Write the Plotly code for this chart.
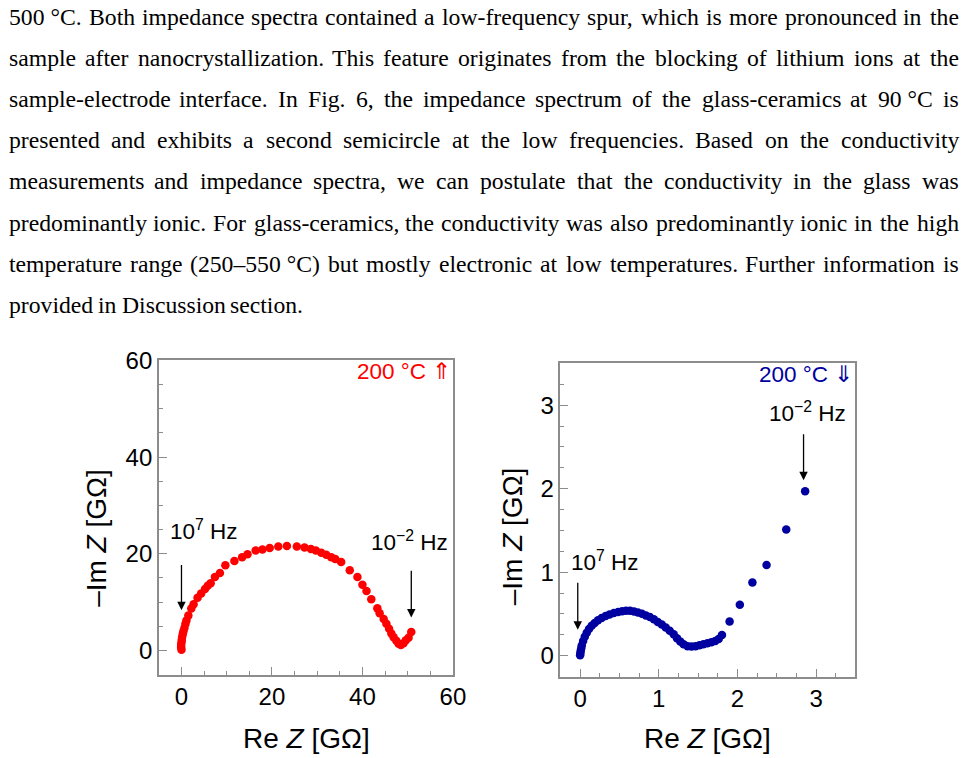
import plotly.graph_objects as go

# ---------------- data ----------------
paragraph_lines = [
    "500\u00a0°C. Both impedance spectra contained a low-frequency spur, which is more pronounced in the",
    "sample after nanocrystallization. This feature originates from the blocking of lithium ions at the",
    "sample-electrode interface. In Fig. 6, the impedance spectrum of the glass-ceramics at 90\u00a0°C is",
    "presented and exhibits a second semicircle at the low frequencies. Based on the conductivity",
    "measurements and impedance spectra, we can postulate that the conductivity in the glass was",
    "predominantly ionic. For glass-ceramics, the conductivity was also predominantly ionic in the high",
    "temperature range (250–550\u00a0°C) but mostly electronic at low temperatures. Further information is",
    "provided in Discussion section.",
]

heat_re = [0.0, -0.07, -0.07, 0.0, 0.07, 0.14, 0.29, 0.43, 0.65, 0.87, 1.09, 1.52, 2.17, 2.68,
           3.55, 4.35, 5.2, 5.8, 6.45, 7.4, 8.5, 9.7, 11.7, 13.4, 14.6, 16.4, 17.9, 19.5, 21.4,
           23.3, 25.5, 27.2, 28.6, 29.7, 30.9, 32.0, 33.1, 34.0, 35.3, 37.2, 38.9, 40.0, 40.9,
           41.96, 43.3, 43.8, 44.7, 45.3, 45.9, 46.4, 46.9, 47.5, 48.0, 48.5, 49.1, 49.6, 50.2, 50.8]
heat_im = [0.13, 0.6, 1.14, 1.68, 2.22, 2.76, 3.37, 3.97, 4.65, 5.45, 6.2, 7.2, 8.69, 9.56,
           10.9, 11.8, 12.7, 13.4, 13.9, 15.2, 16.0, 17.6, 18.5, 19.3, 19.9, 20.7, 20.9, 21.2, 21.5,
           21.6, 21.5, 21.3, 21.0, 20.7, 20.2, 19.8, 19.3, 18.9, 18.3, 16.6, 15.2, 13.6, 12.3,
           10.6, 8.7, 7.7, 6.5, 5.5, 4.5, 3.5, 2.7, 2.0, 1.4, 1.1, 1.5, 2.1, 2.6, 3.8]

cool_re = [0.000, 0.003, 0.008, 0.014, 0.021, 0.038, 0.059, 0.084, 0.113, 0.147, 0.185, 0.227,
           0.273, 0.324, 0.374, 0.429, 0.483, 0.534, 0.584, 0.634, 0.685, 0.735, 0.786, 0.836,
           0.887, 0.937, 0.987, 1.038, 1.088, 1.139, 1.189, 1.231, 1.273, 1.315, 1.366, 1.416,
           1.466, 1.517, 1.567, 1.618, 1.668, 1.718, 1.761, 1.803,
           1.90, 2.03, 2.19, 2.37, 2.62, 2.86]
cool_im = [0.004, 0.030, 0.059, 0.090, 0.122, 0.176, 0.227, 0.275, 0.318, 0.357, 0.392, 0.424,
           0.451, 0.475, 0.494, 0.510, 0.522, 0.533, 0.537, 0.537, 0.529, 0.518, 0.502, 0.482,
           0.463, 0.435, 0.404, 0.373, 0.337, 0.298, 0.255, 0.208, 0.169, 0.137, 0.114, 0.110,
           0.114, 0.125, 0.137, 0.149, 0.161, 0.176, 0.200, 0.247,
           0.41, 0.61, 0.875, 1.086, 1.51, 1.97]

# ---------------- styles ----------------
W, H = 978, 758
SERIF = "Times New Roman, Liberation Serif, serif"
SANS = "Arial, Liberation Sans, sans-serif"
RED = "#ff0000"
BLUE = "#0000a0"
AXC = "#8c8c8c"
TXT_FS = 23.7

# Times New Roman advance widths (1/1000 em)
TW = {' ': 250, '\u00a0': 250, '.': 250, ',': 250, '-': 333, '–': 500, '(': 333, ')': 333,
      '°': 400, ':': 278, ';': 278}
for c in "0123456789":
    TW[c] = 500
TW.update(dict(a=444, b=500, c=444, d=500, e=444, f=333, g=500, h=500, i=278, j=278, k=500,
               l=278, m=778, n=500, o=500, p=500, q=500, r=333, s=389, t=278, u=500, v=500,
               w=722, x=500, y=500, z=444))
TW.update(dict(A=722, B=667, C=667, D=722, E=611, F=556, G=722, H=722, I=333, J=389, K=722,
               L=611, M=889, N=722, O=722, P=556, Q=722, R=667, S=556, T=611, U=722, V=722,
               W=944, X=722, Y=722, Z=611))


def tw(s):
    return sum(TW.get(ch, 500) for ch in s) * TXT_FS / 1000.0


fig = go.Figure()

fig.add_trace(go.Scatter(x=heat_re, y=heat_im, mode="markers",
                         marker=dict(color=RED, size=8.5, line=dict(width=0)),
                         xaxis="x", yaxis="y", showlegend=False))
fig.add_trace(go.Scatter(x=cool_re, y=cool_im, mode="markers",
                         marker=dict(color=BLUE, size=8.5, line=dict(width=0)),
                         xaxis="x2", yaxis="y2", showlegend=False))

ann = []
# paragraph text, justified
X0, X1 = 8, 970
LINE0, LSTEP = 3, 41.9
for i, line in enumerate(paragraph_lines):
    words = line.split(" ")
    cy = LINE0 + i * LSTEP
    if i < len(paragraph_lines) - 1:
        total = sum(tw(w) for w in words)
        gap = (X1 - X0 - total) / (len(words) - 1)
    else:
        gap = tw(" ")
    x = X0
    for w in words:
        ann.append(dict(text=w, xref="paper", yref="paper", x=x / W, y=1 - cy / H,
                        xanchor="left", yanchor="middle", showarrow=False, borderpad=0,
                        font=dict(family=SERIF, size=TXT_FS, color="black")))
        x += tw(w) + gap

TICK_FS = 24
TITLE_FS = 28
LBL_FS = 22.5

# axis titles
ttl = dict(xref="paper", yref="paper", xanchor="center", yanchor="middle", showarrow=False,
           font=dict(family=SANS, size=TITLE_FS, color="black"))
ann += [
    dict(ttl, text="–Im <i>Z</i> [GΩ]", x=97 / W, y=1 - 534 / H, textangle=-90),
    dict(ttl, text="Re <i>Z</i> [GΩ]", x=311 / W, y=1 - 738 / H),
    dict(ttl, text="–Im <i>Z</i> [GΩ]", x=519 / W, y=1 - 532 / H, textangle=-90),
    dict(ttl, text="Re <i>Z</i> [GΩ]", x=717 / W, y=1 - 738 / H),
]

# panel labels
ann += [
    dict(text="200 °C ⇑", xref="x domain", yref="y domain", x=1.0, y=0.966,
         xanchor="right", yanchor="middle", showarrow=False,
         font=dict(family=SANS, size=LBL_FS, color=RED)),
    dict(text="200 °C ⇓", xref="x2 domain", yref="y2 domain", x=1.0, y=0.966,
         xanchor="right", yanchor="middle", showarrow=False,
         font=dict(family=SANS, size=LBL_FS, color=BLUE)),
    dict(text="10<sup>7</sup> Hz", xref="x", yref="y", x=-3.0, y=25.0,
         xanchor="left", yanchor="middle", showarrow=False,
         font=dict(family=SANS, size=LBL_FS, color="black")),
    dict(text="10<sup>−2</sup> Hz", xref="x", yref="y", x=59.4, y=22.6,
         xanchor="right", yanchor="middle", showarrow=False,
         font=dict(family=SANS, size=LBL_FS, color="black")),
    dict(text="10<sup>7</sup> Hz", xref="x2", yref="y2", x=-0.14, y=1.13,
         xanchor="left", yanchor="middle", showarrow=False,
         font=dict(family=SANS, size=LBL_FS, color="black")),
    dict(text="10<sup>−2</sup> Hz", xref="x2", yref="y2", x=3.40, y=2.92,
         xanchor="right", yanchor="middle", showarrow=False,
         font=dict(family=SANS, size=LBL_FS, color="black")),
]

# arrows
for xr, yr, xv, y_from, y_to in [("x", "y", 0.0, 18.0, 8.3), ("x", "y", 50.8, 16.8, 6.8),
                                  ("x2", "y2", -0.03, 0.89, 0.31), ("x2", "y2", 2.84, 2.67, 2.1)]:
    ann.append(dict(x=xv, y=y_to, ax=xv, ay=y_from, xref=xr, yref=yr, axref=xr, ayref=yr,
                    text="", showarrow=True, arrowhead=2, arrowsize=1.3, arrowwidth=1.3,
                    arrowcolor="black", standoff=0, startstandoff=0))


def axis(dom, rng, dtick, minor_dtick, anchor):
    return dict(domain=dom, range=rng, dtick=dtick, tick0=0, showgrid=False, zeroline=False,
                showline=True, linecolor=AXC, linewidth=1.5, mirror=True,
                ticks="inside", ticklen=8, tickwidth=1.2, tickcolor=AXC,
                tickfont=dict(family=SANS, size=TICK_FS, color="black"),
                minor=dict(dtick=minor_dtick, tick0=0, ticks="inside", ticklen=4,
                           tickwidth=1.2, tickcolor=AXC, showgrid=False),
                anchor=anchor, fixedrange=True)


fig.update_layout(
    width=W, height=H, margin=dict(l=0, r=0, t=0, b=0),
    paper_bgcolor="white", plot_bgcolor="white",
    xaxis=axis([161 / W, 459 / W], [-5, 60], 20, 5, "y"),
    yaxis=axis([1 - 673 / H, 1 - 353 / H], [-5, 60], 20, 5, "x"),
    xaxis2=axis([568 / W, 867 / W], [-0.25, 3.5], 1, 0.25, "y2"),
    yaxis2=axis([1 - 675 / H, 1 - 356 / H], [-0.25, 3.5], 1, 0.25, "x2"),
    annotations=ann,
)

fig.write_html("out.html")
